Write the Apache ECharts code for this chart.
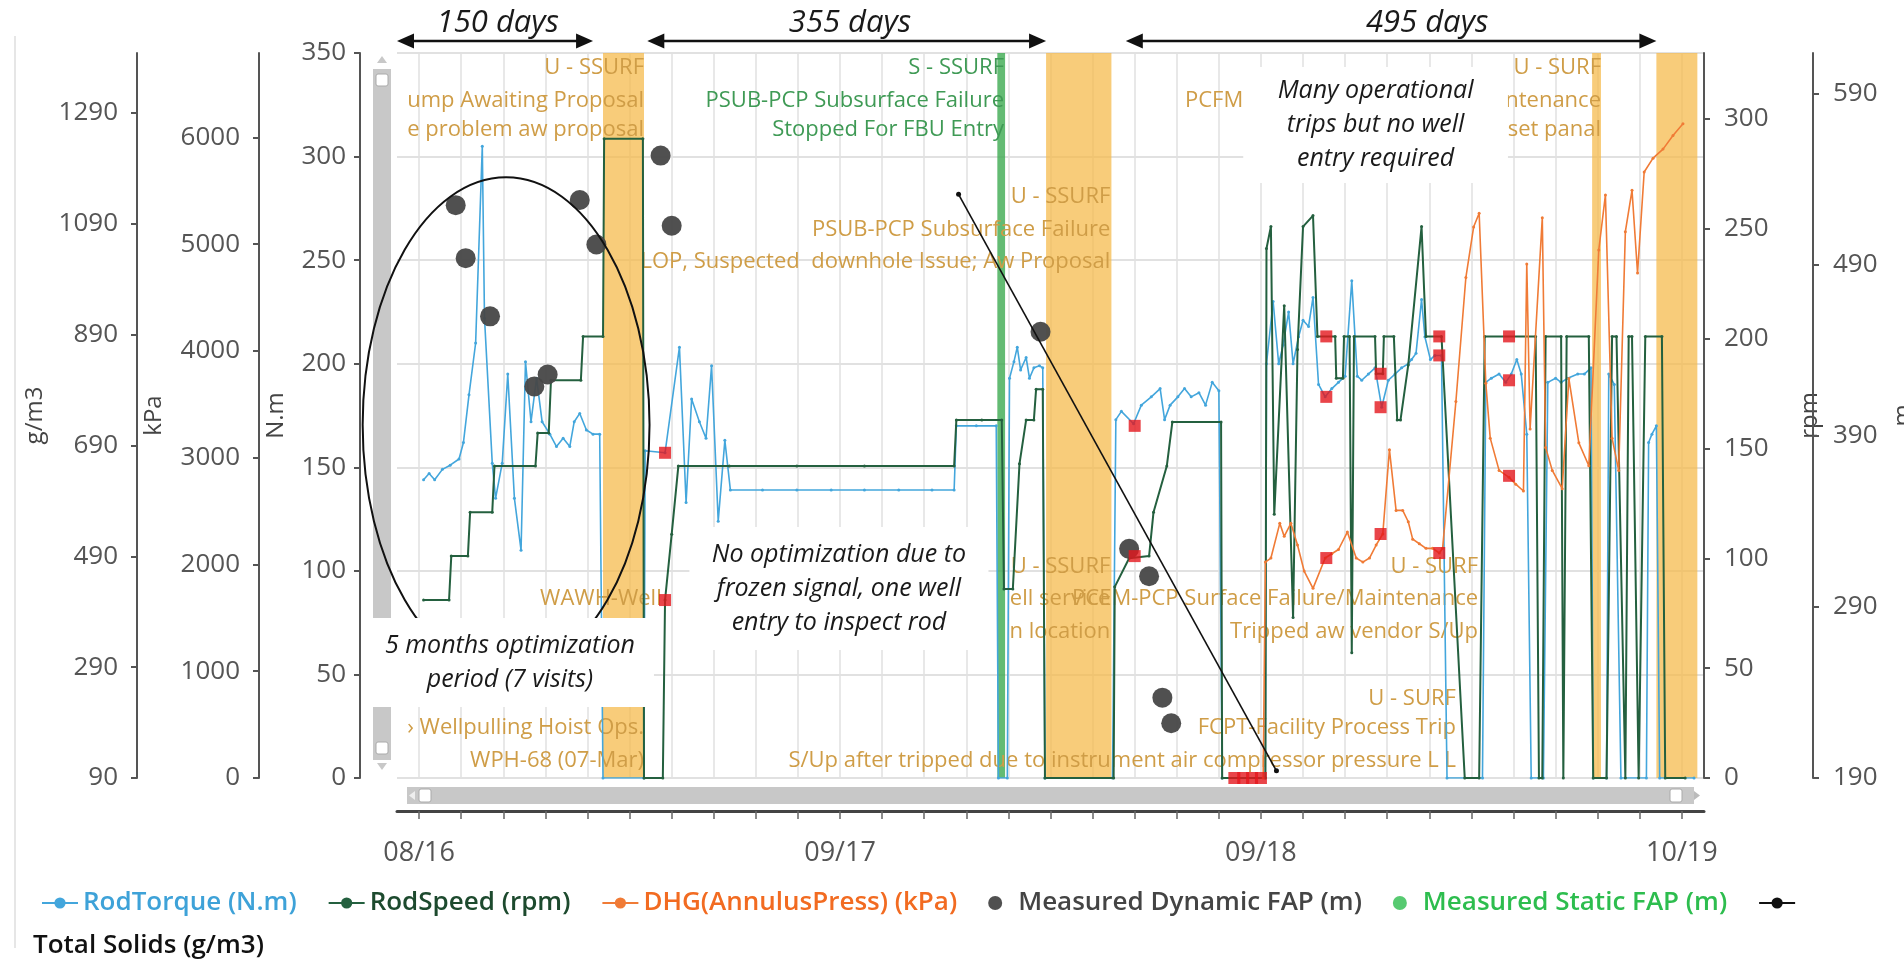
<!DOCTYPE html>
<html>
<head>
<meta charset="utf-8">
<title>Well performance history</title>
<script src="https://cdn.jsdelivr.net/npm/echarts@6/dist/echarts.min.js"></script>
<style>
  html, body { margin: 0; padding: 0; background: #ffffff; }
  #chart { width: 1904px; height: 962px; }
</style>
</head>
<body>
<div id="chart"></div>
<script>
// ---------- data ----------
const xStart = '2016-08-05';
const xEnd = '2019-10-29';
const labelDates = ['2016-08-25', '2017-09-09', '2018-09-24', '2019-10-09'];
const gridStepDays = 38;

const torqueTicks = [0, 50, 100, 150, 200, 250, 300, 350];
const annulusTicks = [0, 1000, 2000, 3000, 4000, 5000, 6000];
const solidsTicks = [90, 290, 490, 690, 890, 1090, 1290];
const speedTicks = [0, 50, 100, 150, 200, 250, 300];
const fapTicks = [190, 290, 390, 490, 590];

const torqueData = [
  ['2016-08-29',144],['2016-09-03',147],['2016-09-08',144],['2016-09-15',149],['2016-09-22',151],['2016-09-30',154],
  ['2016-10-04',162],['2016-10-09',185],['2016-10-15',210],['2016-10-21',305],['2016-10-23',222],['2016-10-30',152],
  ['2016-11-02',135],['2016-11-08',152],['2016-11-13',195],['2016-11-19',135],['2016-11-25',110],['2016-11-29',201],
  ['2016-12-04',172],['2016-12-09',193],['2016-12-14',172],['2016-12-21',166],['2016-12-27',160],['2017-01-02',164],
  ['2017-01-08',160],['2017-01-12',172],['2017-01-17',176],['2017-01-23',168],['2017-01-29',166],['2017-02-04',166],
  ['2017-02-07',0],['2017-03-16',0],['2017-03-17',158],['2017-04-04',157],['2017-04-17',208],['2017-04-23',133],
  ['2017-04-28',183],['2017-05-05',172],['2017-05-11',164],['2017-05-16',199],['2017-05-22',124],['2017-05-28',163],
  ['2017-06-02',139],['2017-07-01',139],['2017-08-01',139],['2017-09-01',139],['2017-10-01',139],['2017-11-01',139],
  ['2017-12-01',139],['2017-12-21',139],['2017-12-23',170],['2018-01-10',170],['2018-01-28',170],['2018-01-30',0],
  ['2018-02-07',0],['2018-02-09',193],['2018-02-13',201],['2018-02-16',208],['2018-02-19',197],['2018-02-24',203],
  ['2018-02-27',193],['2018-03-03',198],['2018-03-08',199],['2018-03-11',198],['2018-03-13',0],['2018-05-13',0],
  ['2018-05-16',173],['2018-05-21',177],['2018-06-01',171],['2018-06-08',180],['2018-06-17',184],['2018-06-25',188],
  ['2018-06-29',173],['2018-07-04',180],['2018-07-11',184],['2018-07-17',188],['2018-07-23',184],['2018-07-30',186],
  ['2018-08-05',180],['2018-08-11',191],['2018-08-17',187],['2018-08-20',0],['2018-09-28',0],
  ['2018-09-29',200],['2018-10-05',230],['2018-10-10',200],['2018-10-14',209],['2018-10-19',225],['2018-10-23',200],
  ['2018-10-28',213],['2018-11-01',221],['2018-11-06',218],['2018-11-10',232],['2018-11-15',190],['2018-11-21',184],
  ['2018-11-27',188],['2018-12-03',191],['2018-12-09',194],['2018-12-15',240],['2018-12-20',194],['2018-12-24',192],
  ['2018-12-30',195],['2019-01-05',198],['2019-01-11',179],['2019-01-17',192],['2019-01-23',195],['2019-01-29',198],
  ['2019-02-04',200],['2019-02-07',202],['2019-02-11',205],['2019-02-16',231],['2019-02-19',213],['2019-02-24',202],
  ['2019-02-28',204],['2019-03-06',204],['2019-03-11',0],['2019-04-12',0],
  ['2019-04-15',191],['2019-04-20',193],['2019-04-27',195],['2019-05-03',191],['2019-05-08',195],['2019-05-13',202],
  ['2019-05-17',195],['2019-05-22',166],['2019-05-26',0],['2019-06-06',0],
  ['2019-06-10',191],['2019-06-17',193],['2019-06-22',191],['2019-06-28',193],['2019-07-07',195],['2019-07-13',195],
  ['2019-07-19',198],['2019-07-21',0],['2019-08-02',0],['2019-08-04',195],['2019-08-09',190],['2019-08-15',0],
  ['2019-09-07',0],['2019-09-09',162],['2019-09-12',166],['2019-09-16',170],['2019-09-19',0],['2019-10-20',0]
];

const speedData = [
  ['2016-08-29',81],['2016-09-21',81],['2016-09-23',101],['2016-10-08',101],['2016-10-10',121],['2016-10-30',121],
  ['2016-11-01',142],['2016-12-08',142],['2016-12-10',157],['2016-12-20',157],['2016-12-22',181],['2017-01-18',181],
  ['2017-01-20',201],['2017-02-07',201],['2017-02-08',291],['2017-03-15',291],['2017-03-16',0],['2017-04-02',0],
  ['2017-04-04',81],['2017-04-10',111],['2017-04-16',142],['2017-06-01',142],['2017-08-01',142],['2017-10-01',142],
  ['2017-12-21',142],['2017-12-23',163],['2018-01-15',163],['2018-02-02',163],['2018-02-04',86],['2018-02-12',86],
  ['2018-02-18',143],['2018-02-24',163],['2018-03-03',163],['2018-03-05',177],['2018-03-11',177],['2018-03-13',0],
  ['2018-05-14',0],['2018-05-15',87],['2018-05-28',100],['2018-06-15',101],['2018-06-19',121],['2018-07-01',142],
  ['2018-07-06',162],['2018-08-19',162],['2018-08-20',0],['2018-09-28',0],
  ['2018-09-29',241],['2018-10-03',251],['2018-10-06',120],['2018-10-15',215],['2018-10-23',73],['2018-10-27',195],
  ['2018-11-01',251],['2018-11-10',256],['2018-11-14',201],['2018-11-30',201],['2018-12-01',182],['2018-12-07',182],
  ['2018-12-08',201],['2018-12-13',201],['2018-12-15',57],['2018-12-17',201],['2019-01-05',201],['2019-01-06',184],
  ['2019-01-12',184],['2019-01-13',201],['2019-01-22',201],['2019-01-25',163],['2019-01-28',163],['2019-02-04',188],
  ['2019-02-16',251],['2019-02-20',201],['2019-03-06',201],['2019-03-27',0],['2019-04-09',0],['2019-04-14',201],
  ['2019-05-30',201],['2019-06-02',0],['2019-06-05',0],['2019-06-08',201],['2019-06-22',201],['2019-06-24',0],
  ['2019-06-27',201],['2019-07-17',201],['2019-07-21',0],['2019-08-02',0],['2019-08-07',201],['2019-08-11',201],
  ['2019-08-19',0],['2019-08-22',201],['2019-08-25',201],['2019-08-31',0],['2019-09-06',201],['2019-09-21',201],
  ['2019-09-24',0],['2019-10-12',0]
];

const annulusData = [
  ['2018-09-26',0],['2018-09-28',2022],['2018-10-03',2060],['2018-10-11',2385],['2018-10-15',2263],['2018-10-21',2385],
  ['2018-10-27',2182],['2018-11-02',1938],['2018-11-10',1776],['2018-11-21',2060],['2018-11-27',2100],['2018-12-03',2140],
  ['2018-12-11',2303],['2018-12-19',2060],['2018-12-25',2022],['2018-12-31',2060],['2019-01-06',2182],['2019-01-12',2285],
  ['2019-01-18',3075],['2019-01-24',2506],['2019-01-30',2506],['2019-02-04',2400],['2019-02-08',2237],['2019-02-14',2194],
  ['2019-02-20',2151],['2019-02-26',2151],['2019-03-04',2107],['2019-03-07',2151],['2019-03-19',3526],['2019-03-28',4687],
  ['2019-04-04',5160],['2019-04-09',5289],['2019-04-15',3698],['2019-04-19',3183],['2019-04-27',2881],['2019-05-06',2816],
  ['2019-05-12',2752],['2019-05-19',2688],['2019-05-22',4815],['2019-05-25',3268],['2019-06-05',5246],['2019-06-08',3096],
  ['2019-06-14',2881],['2019-06-23',2710],['2019-06-29',3741],['2019-07-08',3139],['2019-07-17',2924],['2019-07-26',4945],
  ['2019-08-01',5461],['2019-08-07',3183],['2019-08-13',2881],['2019-08-19',5117],['2019-08-25',5504],['2019-08-30',4730],
  ['2019-09-05',5676],['2019-09-13',5805],['2019-09-22',5890],['2019-10-01',6018],['2019-10-10',6127]
];

const dynamicFapData = [
  ['2016-09-27',525],['2016-10-06',494],['2016-10-28',460],['2016-12-07',419],['2016-12-19',426],['2017-01-17',528],
  ['2017-02-01',502],['2017-03-31',554],['2017-04-10',513],['2018-03-09',451],['2018-05-28',324],['2018-06-15',308],
  ['2018-06-27',237],['2018-07-05',222]
];
const staticFapData = [];
const totalSolidsData = [['2017-12-25',1143],['2018-10-08',103]];

// field events flagged on each trace
const eventTorque = [['2017-04-04',157],['2018-06-02',170],['2018-11-22',184],['2019-01-10',179],['2019-03-04',204],['2019-05-06',192]];
const eventSpeed = [['2017-04-04',81],['2018-06-02',101],['2018-08-31',0],['2018-09-08',0],['2018-09-16',0],['2018-09-24',0],
  ['2018-11-22',201],['2019-01-10',184],['2019-03-04',201],['2019-05-06',201]];
const eventAnnulus = [['2018-11-22',2060],['2019-01-10',2285],['2019-03-04',2107],['2019-05-06',2830]];

// downtime windows (U = unscheduled, S = scheduled)
const downtimes = [
  ['2017-02-07','2017-03-16','U'],
  ['2018-01-29','2018-02-05','S'],
  ['2018-03-14','2018-05-12','U'],
  ['2019-07-20','2019-07-28','U'],
  ['2019-09-16','2019-10-23','U']
];

// event comments: end date, text band, first row, kind, lines
const eventNotes = [
  ['2017-03-16','top',0,'U',['U - SSURF','ump Awaiting Proposal','e problem aw proposal']],
  ['2017-03-16','bottom',1,'U',['\u203a Wellpulling Hoist Ops.','WPH-68 (07-Mar)']],
  ['2017-04-01','lower',1,'U',['WAWH-Well']],
  ['2018-02-04','top',0,'S',['S - SSURF','PSUB-PCP Subsurface Failure','Stopped For FBU Entry']],
  ['2018-05-11','upper',0,'U',['U - SSURF','PSUB-PCP Subsurface Failure','LOP, Suspected  downhole Issue; Aw Proposal']],
  ['2018-05-11','lower',0,'U',['U - SSURF','ell service','n location']],
  ['2018-09-08','top',1,'U',['PCFM']],
  ['2019-04-08','lower',0,'U',['U - SURF','PCEM-PCP Surface Failure/Maintenance','Tripped aw vendor S/Up']],
  ['2019-03-19','bottom',0,'U',['U - SURF','FCPT-Facility Process Trip','S/Up after tripped due to instrument air compressor pressure L L']],
  ['2019-07-28','top',0,'U',['U - SURF','Maintenance','Reset panal']]
];

// analyst remarks: date span, torque span, text
const remarks = [
  ['2016-07-08','2017-03-25',34.3,77.2,'5 months optimization\nperiod (7 visits)'],
  ['2017-04-26','2018-01-21',61.8,121.2,'No optimization due to\nfrozen signal, one well\nentry to inspect rod'],
  ['2018-09-08','2019-05-05',287.2,343.2,'Many operational\ntrips but no well\nentry required']
];
const periods = [
  ['2016-08-05','2017-01-29','2016-11-04','150 days'],
  ['2017-03-19','2018-03-14','2017-09-18','355 days'],
  ['2018-05-25','2019-09-16','2019-02-21','495 days']
];
const optimisationEllipse = ['2016-07-05','2017-03-21',51,290];

// ---------- helpers ----------
const DAY = 86400000;
const ts = s => Date.parse(s + 'T00:00:00Z');
const pts = arr => arr.map(p => [ts(p[0]), p[1]]);
const fmtDate = v => {
  const d = new Date(v);
  return String(d.getUTCMonth() + 1).padStart(2, '0') + '/' + String(d.getUTCFullYear() % 100).padStart(2, '0');
};
const plain = v => String(v);
const gridTicks = [];
for (let t = ts(labelDates[0]); t <= ts(labelDates[labelDates.length - 1]) + 1; t += gridStepDays * DAY) gridTicks.push(t);
const labelTicks = labelDates.map(ts);

const C = {
  torque: '#43a6dc', speed: '#24603f', annulus: '#f07b36', fap: '#474747', staticFap: '#2dbd4e',
  solids: '#111111', event: '#e3161d', bandU: 'rgba(245,185,70,0.72)', bandS: 'rgba(60,170,80,0.8)',
  noteU: '#cf9d47', noteS: '#3f9a55', axis: '#555555', grid: '#e1e1e1'
};
const FONT = '"Open Sans", "Noto Sans", sans-serif';
const TICK_FONT = 26;
const solidsName = 'Total Solids (g/m3)';

function yAxisBase(o, ticks, margin) {
  const ax = {
    type: 'value',
    nameLocation: 'middle',
    nameRotate: 90,
    nameTextStyle: { color: '#444', fontSize: 24, fontFamily: FONT },
    axisLine: { show: true, lineStyle: { color: C.axis, width: 2 } },
    axisTick: { show: true, length: 6, lineStyle: { color: C.axis, width: 2 } },
    axisLabel: { color: C.axis, fontSize: TICK_FONT, fontFamily: FONT, margin: margin, formatter: plain },
    splitLine: { show: false }
  };
  if (ticks) {
    ax.axisTick.customValues = ticks;
    ax.axisLabel.customValues = ticks;
  }
  return Object.assign(ax, o);
}

const option = {
  backgroundColor: '#ffffff',
  animation: false,
  grid: { left: 397, right: 200, top: 53, bottom: 184, containLabel: false, outerBoundsMode: 'none' },
  xAxis: {
    type: 'value', min: ts(xStart), max: ts(xEnd), offset: 33,
    axisLine: { show: true, onZero: false, lineStyle: { color: '#444', width: 3 } },
    axisTick: { show: true, length: 8, customValues: gridTicks, lineStyle: { color: '#666', width: 1.5 } },
    axisLabel: { customValues: labelTicks, formatter: fmtDate, color: C.axis, fontSize: 27, fontFamily: FONT, margin: 29 },
    splitLine: { show: true, lineStyle: { color: C.grid, width: 1.5 } }
  },
  yAxis: [
    yAxisBase({ name: 'N.m', position: 'left', offset: 37, min: 0, max: 350, interval: 50, nameGap: 72,
      splitLine: { show: true, lineStyle: { color: C.grid, width: 2 } } }, null, 14),
    yAxisBase({ name: 'kPa', position: 'left', offset: 138, min: 0, max: 6790, nameGap: 93 }, annulusTicks, 19),
    yAxisBase({ name: 'g/m3', position: 'left', offset: 260, min: 90, max: 1398, nameGap: 90 }, solidsTicks, 19),
    yAxisBase({ name: 'rpm', position: 'right', offset: 0, min: 0, max: 330, nameGap: 94 }, speedTicks, 20),
    yAxisBase({ name: 'm', position: 'right', offset: 109, min: 190, max: 614, nameGap: 78 }, fapTicks, 20)
  ],
  legend: [
    {
      left: 36, top: 885, itemWidth: 36, itemHeight: 14, itemGap: 31,
      textStyle: { fontSize: 26, fontWeight: 600, fontFamily: FONT },
      formatter: n => (n === solidsName ? '' : n),
      data: [
        { name: 'RodTorque (N.m)', textStyle: { color: '#3ea2d8' } },
        { name: 'RodSpeed (rpm)', textStyle: { color: '#1d4a2e' } },
        { name: 'DHG(AnnulusPress) (kPa)', textStyle: { color: '#f26b21' } },
        { name: 'Measured Dynamic FAP (m)', textStyle: { color: '#444444' } },
        { name: 'Measured Static FAP (m)', textStyle: { color: '#2dbd4e' } },
        { name: solidsName, textStyle: { color: '#111111' } }
      ]
    },
    {
      left: 23, top: 928, itemWidth: 0, itemHeight: 14,
      textStyle: { fontSize: 26, fontWeight: 600, fontFamily: FONT, color: '#111111' },
      data: [{ name: solidsName, icon: 'none' }]
    }
  ],
  series: [
    {
      name: 'RodTorque (N.m)', type: 'line', yAxisIndex: 0, z: 3,
      data: pts(torqueData), symbol: 'circle', symbolSize: 3, showSymbol: true,
      lineStyle: { color: C.torque, width: 1.6 }, itemStyle: { color: C.torque },
      markArea: {
        silent: true, label: { show: false },
        data: downtimes.map(b => [
          { xAxis: ts(b[0]), itemStyle: { color: b[2] === 'S' ? C.bandS : C.bandU } },
          { xAxis: ts(b[1]) }
        ])
      }
    },
    {
      name: 'RodSpeed (rpm)', type: 'line', yAxisIndex: 3, z: 4,
      data: pts(speedData), symbol: 'circle', symbolSize: 3, showSymbol: true,
      lineStyle: { color: C.speed, width: 2 }, itemStyle: { color: C.speed }
    },
    {
      name: 'DHG(AnnulusPress) (kPa)', type: 'line', yAxisIndex: 1, z: 5,
      data: pts(annulusData), symbol: 'circle', symbolSize: 3, showSymbol: true,
      lineStyle: { color: C.annulus, width: 1.6 }, itemStyle: { color: C.annulus }
    },
    {
      name: 'Measured Dynamic FAP (m)', type: 'scatter', yAxisIndex: 4, z: 6,
      data: pts(dynamicFapData), symbolSize: 20, itemStyle: { color: C.fap, opacity: 0.95 }
    },
    {
      name: 'Measured Static FAP (m)', type: 'scatter', yAxisIndex: 4, z: 6,
      data: pts(staticFapData), symbolSize: 20, itemStyle: { color: C.staticFap }
    },
    {
      name: 'Events torque', type: 'scatter', yAxisIndex: 0, z: 7,
      data: pts(eventTorque), symbol: 'rect', symbolSize: 12, itemStyle: { color: C.event }
    },
    {
      name: 'Events speed', type: 'scatter', yAxisIndex: 3, z: 7,
      data: pts(eventSpeed), symbol: 'rect', symbolSize: 12, itemStyle: { color: C.event }
    },
    {
      name: 'Events annulus', type: 'scatter', yAxisIndex: 1, z: 7,
      data: pts(eventAnnulus), symbol: 'rect', symbolSize: 12, itemStyle: { color: C.event }
    },
    {
      name: solidsName, type: 'line', yAxisIndex: 2, z: 8,
      data: pts(totalSolidsData), symbol: 'circle', symbolSize: 5, showSymbol: true,
      lineStyle: { color: C.solids, width: 1.6 }, itemStyle: { color: C.solids }
    }
  ]
};

const chart = echarts.init(document.getElementById('chart'), null, { renderer: 'canvas' });
chart.setOption(option);

// ---------- overlay drawn in data coordinates ----------
const P = (d, v, yi) => chart.convertToPixel({ xAxisIndex: 0, yAxisIndex: yi || 0 }, [ts(d), v]);
const noteRows = { top: [342.8, 326.9, 312.8], upper: [280.6, 264.8, 249.0], lower: [101.9, 86.6, 70.7], bottom: [38.4, 24.3, 8.5] };

const g = [];
const [gl, gb] = P(xStart, 0);
const [gr, gt] = P(xEnd, 350);

// outer frame edge
g.push({ type: 'line', silent: true, z: 1, shape: { x1: 15, y1: 36, x2: 15, y2: 948 }, style: { stroke: '#e6e6e6', lineWidth: 2 } });

// vertical scroll bar
const vx = gl - 24;
g.push({ type: 'rect', silent: true, z: 5, shape: { x: vx, y: gt + 16, width: 18, height: (gb - gt) - 34 }, style: { fill: '#c8c8c8' } });
g.push({ type: 'polygon', silent: true, z: 5, shape: { points: [[vx + 9, gt + 3], [vx + 4, gt + 10], [vx + 14, gt + 10]] }, style: { fill: '#c8c8c8' } });
g.push({ type: 'rect', silent: true, z: 6, shape: { x: vx + 3, y: gt + 21, width: 12, height: 12, r: 2 }, style: { fill: '#ffffff', stroke: '#aaaaaa', lineWidth: 1 } });
g.push({ type: 'rect', silent: true, z: 6, shape: { x: vx + 3, y: gb - 36, width: 12, height: 12, r: 2 }, style: { fill: '#ffffff', stroke: '#aaaaaa', lineWidth: 1 } });
g.push({ type: 'polygon', silent: true, z: 5, shape: { points: [[vx + 9, gb - 8], [vx + 4, gb - 15], [vx + 14, gb - 15]] }, style: { fill: '#c8c8c8' } });

// horizontal scroll bar
const hy = gb + 9;
g.push({ type: 'rect', silent: true, z: 5, shape: { x: gl + 10, y: hy, width: gr - gl - 20, height: 17 }, style: { fill: '#c8c8c8' } });
g.push({ type: 'polygon', silent: true, z: 6, shape: { points: [[gl + 12, hy + 8.5], [gl + 18, hy + 4], [gl + 18, hy + 13]] }, style: { fill: '#eeeeee' } });
g.push({ type: 'rect', silent: true, z: 6, shape: { x: gl + 22, y: hy + 2, width: 12, height: 13, r: 2 }, style: { fill: '#ffffff', stroke: '#aaaaaa', lineWidth: 1 } });
g.push({ type: 'rect', silent: true, z: 6, shape: { x: gr - 34, y: hy + 2, width: 12, height: 13, r: 2 }, style: { fill: '#ffffff', stroke: '#aaaaaa', lineWidth: 1 } });
g.push({ type: 'polygon', silent: true, z: 6, shape: { points: [[gr - 4, hy + 8.5], [gr - 10, hy + 4], [gr - 10, hy + 13]] }, style: { fill: '#bbbbbb' } });

// event comments, right-aligned at each event's end date
eventNotes.forEach(n => {
  const x = P(n[0], 0)[0];
  n[4].forEach((line, i) => {
    const y = P(n[0], noteRows[n[1]][n[2] + i])[1];
    g.push({
      type: 'text', silent: true, z: 2, x: x, y: y,
      style: { text: line, fill: n[3] === 'S' ? C.noteS : C.noteU, font: '22px ' + FONT,
        align: 'right', verticalAlign: 'middle', textAlign: 'right', textVerticalAlign: 'middle' }
    });
  });
});

// optimisation period ellipse
{
  const [x1, y1] = P(optimisationEllipse[0], optimisationEllipse[3]);
  const [x2, y2] = P(optimisationEllipse[1], optimisationEllipse[2]);
  g.push({ type: 'ellipse', silent: true, z: 15,
    shape: { cx: (x1 + x2) / 2, cy: (y1 + y2) / 2, rx: Math.abs(x2 - x1) / 2, ry: Math.abs(y2 - y1) / 2 },
    style: { fill: 'none', stroke: '#111111', lineWidth: 2 } });
}

// remark boxes
remarks.forEach(r => {
  const [x1, y1] = P(r[0], r[3]);
  const [x2, y2] = P(r[1], r[2]);
  g.push({ type: 'rect', silent: true, z: 20, shape: { x: x1, y: y1, width: x2 - x1, height: y2 - y1 }, style: { fill: '#ffffff' } });
  g.push({ type: 'text', silent: true, z: 21, x: (x1 + x2) / 2, y: (y1 + y2) / 2,
    style: { text: r[4], fill: '#1a1a1a', font: 'italic 25px ' + FONT, lineHeight: 34,
      align: 'center', verticalAlign: 'middle', textAlign: 'center', textVerticalAlign: 'middle' } });
});

// period arrows above the plot
periods.forEach(p => {
  const xa = P(p[0], 0)[0], xb = P(p[1], 0)[0], xm = P(p[2], 0)[0];
  const ya = gt - 12;
  g.push({ type: 'line', silent: true, z: 20, shape: { x1: xa + 8, y1: ya, x2: xb - 8, y2: ya }, style: { stroke: '#111111', lineWidth: 2.5 } });
  g.push({ type: 'polygon', silent: true, z: 20, shape: { points: [[xa, ya], [xa + 17, ya - 7.5], [xa + 17, ya + 7.5]] }, style: { fill: '#111111' } });
  g.push({ type: 'polygon', silent: true, z: 20, shape: { points: [[xb, ya], [xb - 17, ya - 7.5], [xb - 17, ya + 7.5]] }, style: { fill: '#111111' } });
  g.push({ type: 'text', silent: true, z: 20, x: xm, y: gt - 30,
    style: { text: p[3], fill: '#1a1a1a', font: 'italic 31px ' + FONT,
      align: 'center', verticalAlign: 'middle', textAlign: 'center', textVerticalAlign: 'middle' } });
});

chart.setOption({ graphic: { elements: g } });
</script>
</body>
</html>
